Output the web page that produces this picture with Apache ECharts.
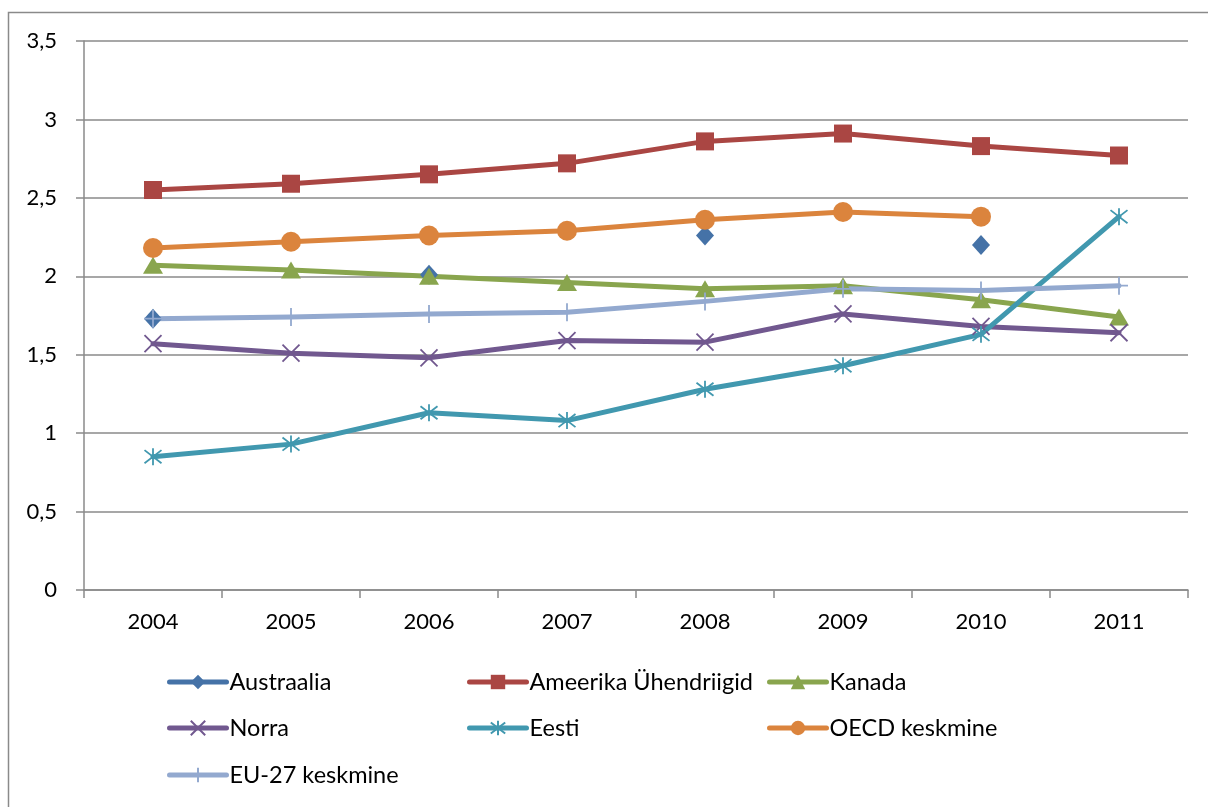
<!DOCTYPE html>
<html>
<head>
<meta charset="utf-8">
<style>
  html, body { margin: 0; padding: 0; background: #fff; }
  #chart { width: 1208px; height: 807px; }
</style>
<script src="https://cdn.jsdelivr.net/npm/echarts@6/dist/echarts.min.js"></script>
</head>
<body>
<div id="chart"></div>
<script>
// Years on the category axis
const years = ['2004', '2005', '2006', '2007', '2008', '2009', '2010', '2011'];

// Value-axis tick labels (Estonian decimal comma)
const yTickLabels = ['0', '0,5', '1', '1,5', '2', '2,5', '3', '3,5'];

// Series values per year (null = no data)
const australia = [1.73, null, 2.01, null, 2.26, null, 2.20, null];
const usa       = [2.55, 2.59, 2.65, 2.72, 2.86, 2.91, 2.83, 2.77];
const kanada    = [2.07, 2.04, 2.00, 1.96, 1.92, 1.94, 1.85, 1.74];
const norra     = [1.57, 1.51, 1.48, 1.59, 1.58, 1.76, 1.68, 1.64];
const eesti     = [0.85, 0.93, 1.13, 1.08, 1.28, 1.43, 1.63, 2.38];
const oecd      = [2.18, 2.22, 2.26, 2.29, 2.36, 2.41, 2.38, null];
const eu27      = [1.73, 1.74, 1.76, 1.77, 1.84, 1.92, 1.91, 1.94];

const seriesNames = ['Austraalia', 'Ameerika Ühendriigid', 'Kanada', 'Norra', 'Eesti', 'OECD keskmine', 'EU-27 keskmine'];

const FONT = 'Lato, "Liberation Sans", sans-serif';

const X_PATH = 'path://M0,0 L10,10 M10,0 L0,10';
const STAR_PATH = 'path://M0,0 L10,10 M10,0 L0,10 M5,-1.5 L5,11.5';
const PLUS_PATH = 'path://M9,0 L9,18 M0,9 L18,9';

const LINE_W = 5;

function filledSeries(name, data, color, symbol, size) {
  return {
    name, type: 'line', data,
    symbol, symbolSize: size,
    showSymbol: true, showAllSymbol: true,
    connectNulls: false,
    lineStyle: { color, width: LINE_W, cap: 'round', join: 'round' },
    itemStyle: { color, borderWidth: 0 },
    emphasis: { disabled: true },
    animation: false
  };
}

function strokedSeries(name, data, color, symbol, size) {
  return {
    name, type: 'line', data,
    symbol, symbolSize: size,
    showSymbol: true, showAllSymbol: true,
    connectNulls: false,
    lineStyle: { color, width: LINE_W, cap: 'round', join: 'round' },
    itemStyle: { color: 'rgba(0,0,0,0)', borderColor: color, borderWidth: 1.8 },
    emphasis: { disabled: true },
    animation: false
  };
}

const series = [
  filledSeries(seriesNames[0], australia, '#4572A7', 'diamond', [18, 20]),
  filledSeries(seriesNames[1], usa, '#AA4643', 'rect', 18),
  filledSeries(seriesNames[2], kanada, '#89A54E', 'triangle', [20, 17]),
  strokedSeries(seriesNames[3], norra, '#71588F', X_PATH, 17),
  strokedSeries(seriesNames[4], eesti, '#4198AF', STAR_PATH, 17),
  filledSeries(seriesNames[5], oecd, '#DB843D', 'circle', 20),
  strokedSeries(seriesNames[6], eu27, '#93A9CF', PLUS_PATH, 18)
];

// Legend laid out as a 3-column grid, one legend component per entry
const legendPos = [
  [167, 682], [467, 682], [767, 682],
  [167, 728], [467, 728], [767, 728],
  [167, 775]
];
const legends = seriesNames.map((name, i) => ({
  data: [name],
  left: legendPos[i][0],
  top: legendPos[i][1] - 13,
  padding: 0,
  itemWidth: 57,
  itemHeight: 18,
  itemGap: 0,
  selectedMode: false,
  lineStyle: { width: LINE_W, cap: 'round' },
  textStyle: { fontFamily: FONT, fontSize: 23.5, color: '#000', lineHeight: 26, padding: [0, 0, 0, -2] }
}));

const chart = echarts.init(document.getElementById('chart'), null, { renderer: 'canvas' });
chart.setOption({
  backgroundColor: '#fff',
  animation: false,
  graphic: [{
    type: 'rect',
    shape: { x: 8.5, y: 12.5, width: 1400, height: 1000 },
    style: { fill: 'none', stroke: '#8a8a8a', lineWidth: 1.5 },
    silent: true
  }],
  grid: { left: 84, right: 20, top: 41, bottom: 217, containLabel: false },
  legend: legends,
  xAxis: {
    type: 'category',
    data: years,
    boundaryGap: true,
    axisLine: { show: true, lineStyle: { color: '#8a8a8a', width: 1.5 } },
    axisTick: { show: true, length: 8, inside: false, alignWithLabel: false, lineStyle: { color: '#8a8a8a', width: 1.5 } },
    axisLabel: { fontFamily: FONT, fontSize: 22, color: '#000', margin: 21 },
    splitLine: { show: false }
  },
  yAxis: {
    type: 'value',
    min: 0, max: 3.5, interval: 0.5,
    axisLine: { show: true, lineStyle: { color: '#8a8a8a', width: 1.5 } },
    axisTick: { show: true, length: 8, inside: false, lineStyle: { color: '#8a8a8a', width: 1.5 } },
    axisLabel: {
      fontFamily: FONT, fontSize: 22, color: '#000', margin: 27,
      formatter: v => yTickLabels[Math.round(v / 0.5)]
    },
    splitLine: { show: true, lineStyle: { color: '#8a8a8a', width: 1.5 } }
  },
  series
});
</script>
</body>
</html>
